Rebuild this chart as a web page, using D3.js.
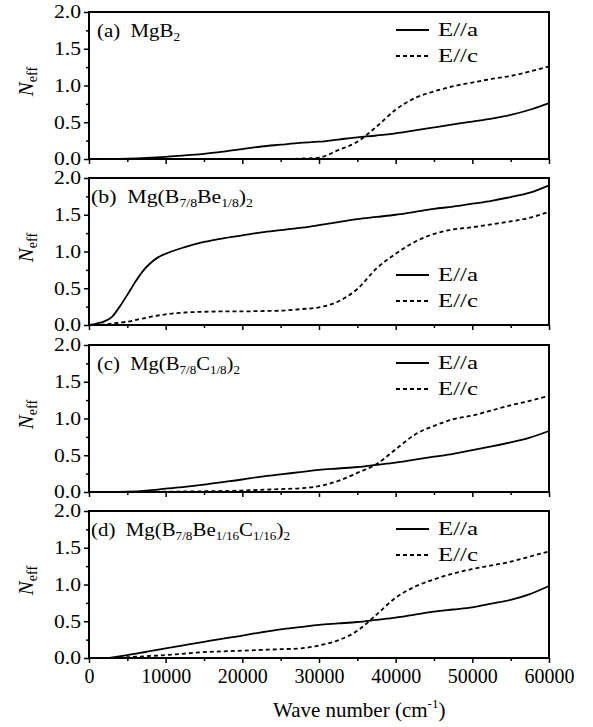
<!DOCTYPE html>
<html>
<head>
<meta charset="utf-8">
<script src="https://cdnjs.cloudflare.com/ajax/libs/d3/7.8.5/d3.min.js"></script>
<style>
  body { margin: 0; background: #fff; }
  svg text { font-family: "Liberation Serif", "Times New Roman", serif; fill: #000; }
</style>
</head>
<body>
<div id="chart"></div>
<script>
// wave number grid (cm^-1) and N_eff
var waveA_a = [2500, 5000, 7500, 10000, 12500, 15000, 17500, 20000, 22500, 25000, 27500, 30000, 32500, 35000, 37500, 40000, 42500, 45000, 47500, 50000, 52500, 55000, 57500, 60000];
var neffA_a = [0.0, 0.005, 0.015, 0.03, 0.05, 0.07, 0.10, 0.135, 0.17, 0.195, 0.22, 0.235, 0.265, 0.295, 0.32, 0.35, 0.39, 0.43, 0.47, 0.51, 0.55, 0.60, 0.67, 0.76];
var waveA_c = [25000, 27500, 30000, 32500, 35000, 37500, 40000, 42500, 45000, 47500, 50000, 52500, 55000, 57500, 60000];
var neffA_c = [0.0, 0.005, 0.02, 0.12, 0.235, 0.44, 0.67, 0.83, 0.92, 0.99, 1.04, 1.09, 1.13, 1.19, 1.26];

var waveB_a = [0, 1000, 2000, 3000, 4000, 5000, 6000, 7000, 8000, 9000, 10000, 12500, 15000, 17500, 20000, 22500, 25000, 27500, 30000, 32500, 35000, 37500, 40000, 42500, 45000, 47500, 50000, 52500, 55000, 57500, 60000];
var neffB_a = [0.0, 0.02, 0.05, 0.11, 0.25, 0.41, 0.58, 0.73, 0.84, 0.92, 0.97, 1.06, 1.13, 1.18, 1.22, 1.26, 1.29, 1.32, 1.36, 1.40, 1.44, 1.47, 1.50, 1.54, 1.58, 1.61, 1.65, 1.69, 1.74, 1.80, 1.90];
var waveB_c = [1500, 3000, 5000, 7500, 10000, 12500, 15000, 17500, 20000, 22500, 25000, 27500, 30000, 32500, 35000, 37500, 40000, 42500, 45000, 47500, 50000, 52500, 55000, 57500, 60000];
var neffB_c = [0.0, 0.02, 0.045, 0.10, 0.145, 0.17, 0.18, 0.185, 0.185, 0.19, 0.195, 0.215, 0.24, 0.32, 0.49, 0.77, 0.97, 1.13, 1.24, 1.30, 1.33, 1.37, 1.41, 1.46, 1.54];

var waveC_a = [2500, 5000, 7500, 10000, 12500, 15000, 17500, 20000, 22500, 25000, 27500, 30000, 32500, 35000, 37500, 40000, 42500, 45000, 47500, 50000, 52500, 55000, 57500, 60000];
var neffC_a = [0.0, 0.005, 0.02, 0.045, 0.07, 0.10, 0.135, 0.17, 0.21, 0.24, 0.27, 0.30, 0.32, 0.34, 0.37, 0.40, 0.44, 0.48, 0.52, 0.57, 0.62, 0.675, 0.74, 0.83];
var waveC_c = [5000, 10000, 15000, 20000, 25000, 27500, 30000, 32500, 35000, 37500, 40000, 42500, 45000, 47500, 50000, 52500, 55000, 57500, 60000];
var neffC_c = [0.0, 0.005, 0.01, 0.02, 0.04, 0.05, 0.08, 0.15, 0.26, 0.38, 0.58, 0.78, 0.90, 0.99, 1.04, 1.11, 1.18, 1.24, 1.31];

var waveD_a = [2500, 5000, 7500, 10000, 12500, 15000, 17500, 20000, 22500, 25000, 27500, 30000, 32500, 35000, 37500, 40000, 42500, 45000, 47500, 50000, 52500, 55000, 57500, 60000];
var neffD_a = [0.0, 0.04, 0.085, 0.13, 0.175, 0.22, 0.265, 0.305, 0.35, 0.39, 0.42, 0.45, 0.47, 0.49, 0.52, 0.55, 0.59, 0.63, 0.66, 0.69, 0.74, 0.79, 0.87, 0.98];
var waveD_c = [3000, 5000, 7500, 10000, 12500, 15000, 17500, 20000, 22500, 25000, 27500, 30000, 32500, 35000, 37500, 40000, 42500, 45000, 47500, 50000, 52500, 55000, 57500, 60000];
var neffD_c = [0.0, 0.01, 0.025, 0.04, 0.06, 0.08, 0.09, 0.10, 0.11, 0.12, 0.13, 0.17, 0.24, 0.37, 0.59, 0.82, 0.97, 1.07, 1.15, 1.21, 1.26, 1.31, 1.38, 1.45];

var xTicks = [0, 10000, 20000, 30000, 40000, 50000, 60000];
var xMinor = [5000, 15000, 25000, 35000, 45000, 55000];
var yTicks = [0.0, 0.5, 1.0, 1.5, 2.0];
var yMinor = [0.25, 0.75, 1.25, 1.75];
var legendNames = ["E//a", "E//c"];

var zip = function(xs, ys){ return xs.map(function(x, i){ return [x, ys[i]]; }); };

var panels = [
    { letter: "(a)", parts: [["MgB", 0], ["2", 1]],
      a: zip(waveA_a, neffA_a), c: zip(waveA_c, neffA_c), legendAtBottom: false },
    { letter: "(b)", parts: [["Mg(B", 0], ["7/8", 1], ["Be", 0], ["1/8", 1], [")", 0], ["2", 1]],
      a: zip(waveB_a, neffB_a), c: zip(waveB_c, neffB_c), legendAtBottom: true },
    { letter: "(c)", parts: [["Mg(B", 0], ["7/8", 1], ["C", 0], ["1/8", 1], [")", 0], ["2", 1]],
      a: zip(waveC_a, neffC_a), c: zip(waveC_c, neffC_c), legendAtBottom: false },
    { letter: "(d)", parts: [["Mg(B", 0], ["7/8", 1], ["Be", 0], ["1/16", 1], ["C", 0], ["1/16", 1], [")", 0], ["2", 1]],
      a: zip(waveD_a, neffD_a), c: zip(waveD_c, neffD_c), legendAtBottom: false }
];

// layout
var W = 593, H = 727;
var left = 89, right = 549, panelH = 147;
var tops = [12, 178, 345, 511];
var labelDx = [8, 2, 8, 2];
var labelLen = [83, 162, 143, 199];

var svg = d3.select("#chart").append("svg")
    .attr("width", W)
    .attr("height", H);

svg.append("rect").attr("width", W).attr("height", H).attr("fill", "#fff");

var x = d3.scaleLinear().domain([0, 60000]).range([left, right]);

panels.forEach(function(p, i){
    var top = tops[i], bottom = top + panelH;
    var y = d3.scaleLinear().domain([0, 2]).range([bottom, top]);
    var last = (i === panels.length - 1);

    var g = svg.append("g");

    // minor ticks
    g.append("g")
        .attr("transform", "translate(0," + bottom + ")")
        .call(d3.axisBottom(x).tickValues(xMinor).tickSize(3).tickFormat(""))
        .call(function(s){ s.select(".domain").remove(); });
    g.append("g")
        .attr("transform", "translate(" + left + ",0)")
        .call(d3.axisLeft(y).tickValues(yMinor).tickSize(3).tickFormat(""))
        .call(function(s){ s.select(".domain").remove(); });

    // major x axis
    var xAxis = g.append("g")
        .attr("transform", "translate(0," + bottom + ")")
        .call(d3.axisBottom(x).tickValues(xTicks).tickSize(5).tickPadding(6)
            .tickFormat(last ? d3.format("d") : ""));
    xAxis.selectAll("text").style("font-size", "20px");

    // major y axis
    var yAxis = g.append("g")
        .attr("transform", "translate(" + left + ",0)")
        .call(d3.axisLeft(y).tickValues(yTicks).tickSize(5).tickPadding(3).tickFormat(d3.format(".1f")));
    yAxis.selectAll("text")
        .style("font-size", "18px")
        .attr("textLength", 27)
        .attr("lengthAdjust", "spacingAndGlyphs");

    g.selectAll(".domain").remove();
    g.selectAll(".tick line").attr("stroke", "#000").attr("stroke-width", 1.5);

    // frame
    g.append("rect")
        .attr("x", left).attr("y", top)
        .attr("width", right - left).attr("height", panelH)
        .attr("fill", "none").attr("stroke", "#000").attr("stroke-width", 2);

    var line = d3.line()
        .x(function(d){ return x(d[0]); })
        .y(function(d){ return y(d[1]); })
        .curve(d3.curveMonotoneX);

    g.append("path").datum(p.a)
        .attr("d", line).attr("fill", "none")
        .attr("stroke", "#000").attr("stroke-width", 1.8);
    g.append("path").datum(p.c)
        .attr("d", line).attr("fill", "none")
        .attr("stroke", "#000").attr("stroke-width", 1.8)
        .attr("stroke-dasharray", "4,3");

    // panel label
    var lbl = g.append("text")
        .attr("x", left + labelDx[i]).attr("y", top + 25)
        .style("font-size", "19px")
        .attr("textLength", labelLen[i])
        .attr("lengthAdjust", "spacingAndGlyphs");
    lbl.append("tspan").text(p.letter + "\u00a0\u00a0");
    p.parts.forEach(function(part){
        lbl.append("tspan").text(part[0])
            .style("font-size", part[1] ? "12px" : null)
            .classed("sub", !!part[1]);
    });
    // shift down into subscripts, back up after
    lbl.selectAll("tspan").each(function(d, k, nodes){
        var isSub = d3.select(this).classed("sub");
        var prevSub = k > 0 && d3.select(nodes[k - 1]).classed("sub");
        d3.select(this).attr("dy", isSub && !prevSub ? 4 : (!isSub && prevSub ? -4 : 0));
    });

    // y label
    var mid = (top + bottom) / 2 - 4;
    var yl = g.append("text")
        .attr("transform", "translate(33," + mid + ") rotate(-90)")
        .attr("text-anchor", "middle")
        .style("font-size", "21px");
    yl.append("tspan").style("font-style", "italic").text("N");
    yl.append("tspan").style("font-size", "14px").attr("dy", 4).text("eff");

    // legend
    var ly = p.legendAtBottom ? bottom - 44 : top + 24;
    legendNames.forEach(function(name, k){
        var by = ly + k * 26;
        g.append("line")
            .attr("x1", 396).attr("x2", 429)
            .attr("y1", by - 6).attr("y2", by - 6)
            .attr("stroke", "#000").attr("stroke-width", 1.8)
            .attr("stroke-dasharray", k === 0 ? null : "4,3");
        g.append("text")
            .attr("x", 438).attr("y", by)
            .style("font-size", "19px")
            .attr("textLength", 40)
            .attr("lengthAdjust", "spacingAndGlyphs")
            .text(name);
    });
});

// x label
var xl = svg.append("text")
    .attr("x", 273).attr("y", 717)
    .style("font-size", "21px");
xl.append("tspan").text("Wave number (cm");
xl.append("tspan").style("font-size", "13px").attr("dy", -9).text("-1");
xl.append("tspan").attr("dy", 9).text(")");
</script>
</body>
</html>
